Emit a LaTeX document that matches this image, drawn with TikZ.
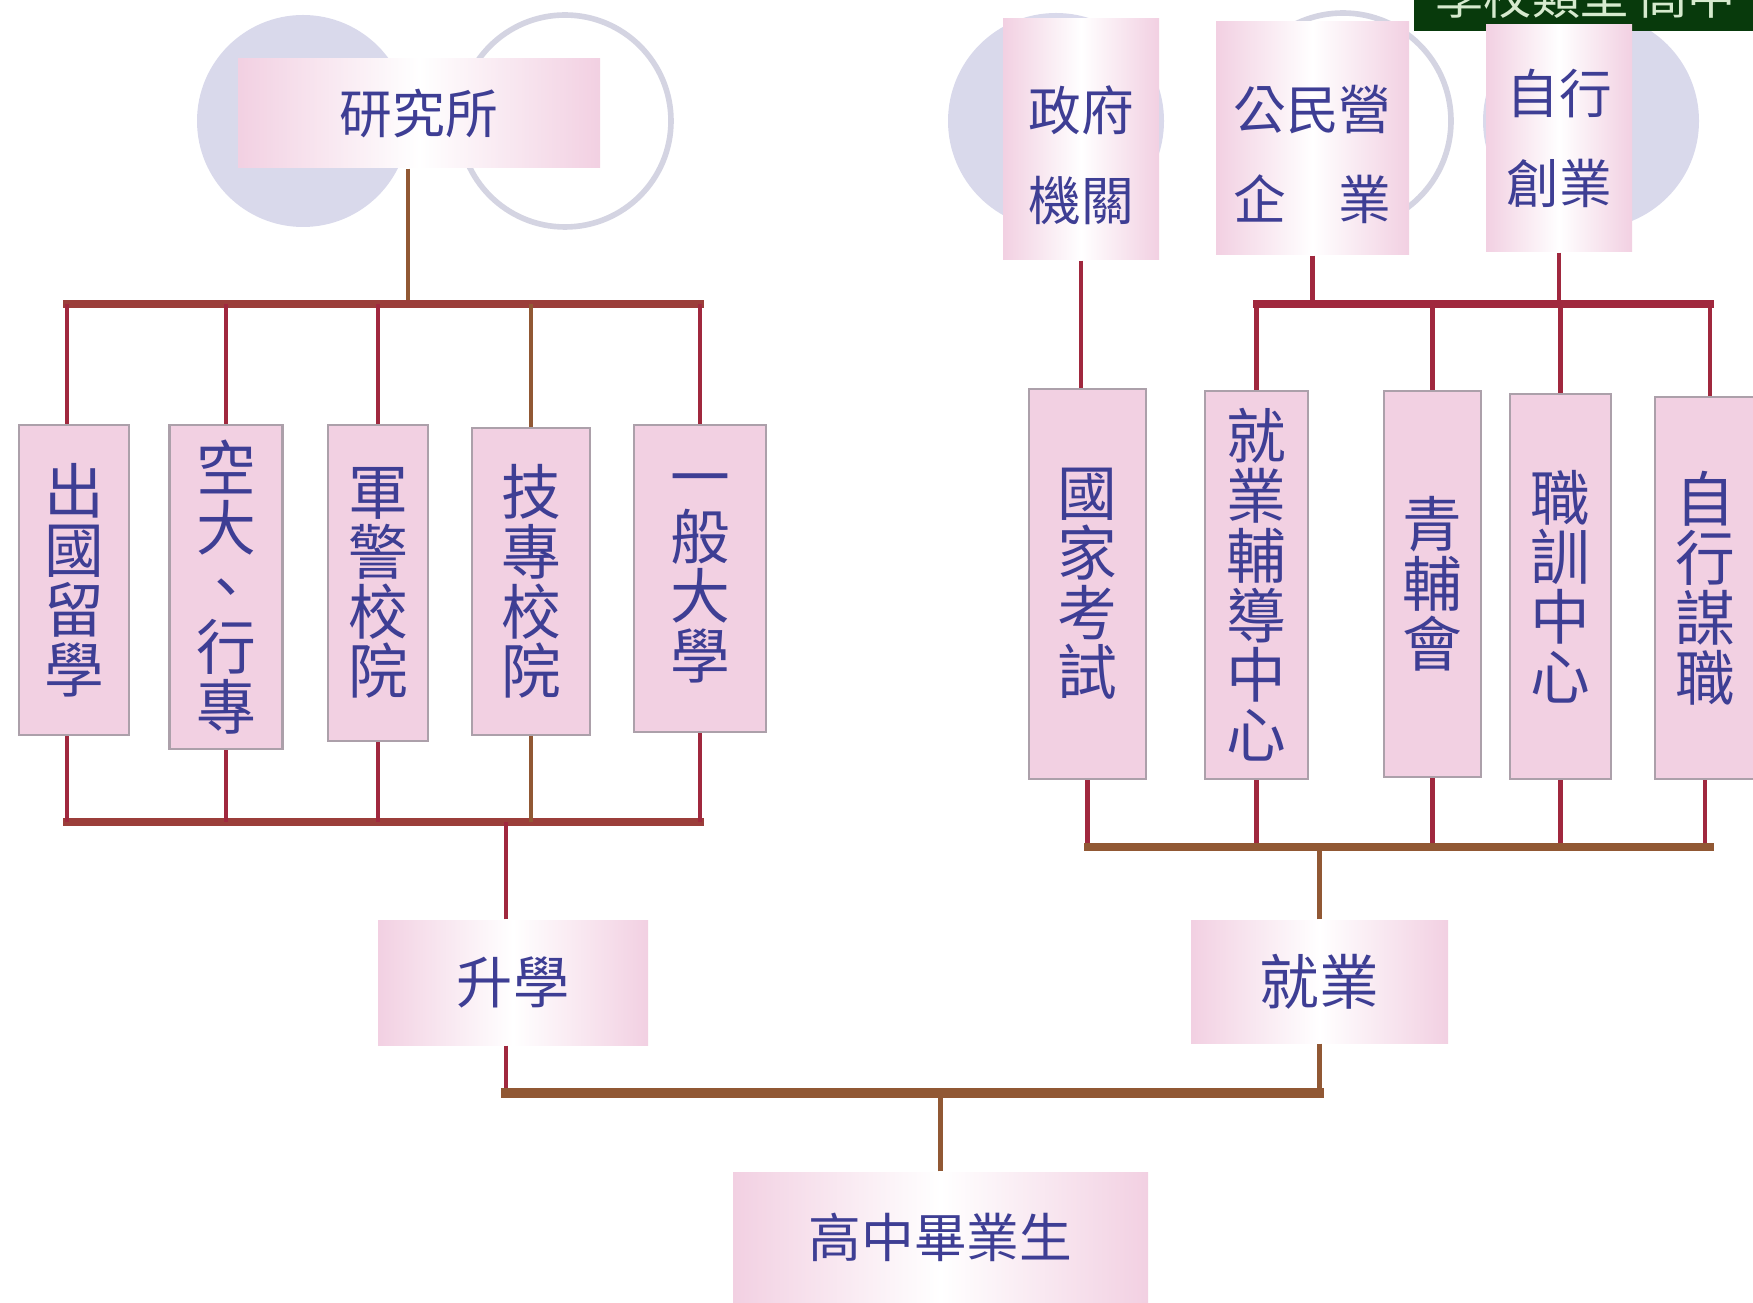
\documentclass[tikz,border=0pt]{standalone}
\usepackage{fontspec}
\newfontfamily\cjk{Noto Sans CJK TC}
\usetikzlibrary{positioning}
\definecolor{boxpink}{RGB}{242,208,226}
\definecolor{boxedge}{RGB}{172,160,170}
\definecolor{inkblue}{RGB}{62,62,148}
\definecolor{linkred}{RGB}{160,40,62}
\definecolor{linkbrown}{RGB}{145,88,52}
\definecolor{barbrown}{RGB}{155,62,58}
\definecolor{discfill}{RGB}{217,217,235}
\definecolor{ringgray}{RGB}{212,212,226}
\definecolor{tagdark}{RGB}{8,58,12}
\definecolor{taggreen}{RGB}{214,234,206}

\begin{document}
\begin{tikzpicture}[x=1cm,y=1cm,
		gradbox/.style={left color=boxpink,right color=boxpink,middle color=white,inner sep=0pt,text=inkblue,align=center},
		colbox/.style={fill=boxpink,draw=boxedge,line width=0.8pt,inner sep=0pt,text=inkblue,align=center,font=\cjk\fontsize{17}{17}\selectfont},
		redlink/.style={draw=linkred,line width=1.3pt},
		brownlink/.style={draw=linkbrown,line width=1.3pt},
		redbar/.style={draw=barbrown,line width=2pt,line cap=rect},
		brownbar/.style={draw=linkbrown,line width=2.2pt,line cap=rect}]
	\useasboundingbox (0,0) rectangle (17.53,-13.03);
	% circles behind the top boxes
	\fill[discfill] (3.03,-1.21) circle (1.06);
	\draw[ringgray,fill=white,line width=1.6pt] (5.65,-1.21) circle (1.06);
	\fill[discfill] (10.56,-1.21) circle (1.08);
	\draw[ringgray,fill=white,line width=1.6pt] (13.43,-1.21) circle (1.08);
	\fill[discfill] (15.91,-1.21) circle (1.08);
	% tag in the corner
	\fill[tagdark] (14.14,0) rectangle (17.53,-0.31);
	\node[anchor=base west,inner sep=0pt,text=taggreen,font=\cjk\fontsize{13.7}{14}\selectfont] (tag) at (14.35,-0.15) {學校類型 高中};
	% top boxes
	\node[gradbox,minimum width=3.62cm,minimum height=1.09cm,font=\cjk\fontsize{15}{15}\selectfont] (yjs) at (4.19,-1.135) {研究所};
	\node[gradbox,minimum width=1.56cm,minimum height=2.41cm,text height=1.66cm,font=\cjk\fontsize{15}{25.5}\selectfont] (gov) at (10.81,-1.395) {政府\\機關};
	\node[gradbox,minimum width=1.93cm,minimum height=2.33cm,text height=1.66cm,font=\cjk\fontsize{15}{25.5}\selectfont] (ent) at (13.125,-1.385) {公民營\\企　業};
	\node[gradbox,minimum width=1.46cm,minimum height=2.27cm,font=\cjk\fontsize{15}{25.5}\selectfont] (self) at (15.59,-1.385) {自行\\創業};
	% column boxes
	\foreach \name/\cx/\cy/\w/\h/\txt in {
		b1/0.74/-5.80/1.10/3.10/{出\\國\\留\\學},
		b2/2.26/-5.87/1.13/3.24/{空\\大\\、\\行\\專},
		b3/3.78/-5.83/1.00/3.16/{軍\\警\\校\\院},
		b4/5.31/-5.815/1.18/3.07/{技\\專\\校\\院},
		b5/7.00/-5.785/1.32/3.07/{一\\般\\大\\學},
		exam/10.875/-5.84/1.17/3.90/{國\\家\\考\\試},
		guide/12.565/-5.85/1.03/3.88/{就\\業\\輔\\導\\中\\心},
		youth/14.325/-5.84/0.97/3.86/{青\\輔\\會},
		train/15.605/-5.865/1.01/3.85/{職\\訓\\中\\心},
		job/17.05/-5.88/1.00/3.82/{自\\行\\謀\\職}}
	{
		\node[colbox,minimum width=\w cm,minimum height=\h cm] (\name) at (\cx,\cy) {\txt};
	}
	% lower boxes
	\node[gradbox,minimum width=2.70cm,minimum height=1.25cm,font=\cjk\fontsize{16}{16}\selectfont] (up) at (5.13,-9.825) {升學};
	\node[gradbox,minimum width=2.57cm,minimum height=1.23cm,font=\cjk\fontsize{17}{17}\selectfont] (work) at (13.195,-9.815) {就業};
	\node[gradbox,minimum width=4.15cm,minimum height=1.31cm,font=\cjk\fontsize{15}{15}\selectfont] (grad) at (9.405,-12.375) {高中畢業生};
	% bar heights
	\coordinate (ltop) at (0,-3.04);
	\coordinate (lbot) at (0,-8.22);
	\coordinate (rtop) at (0,-3.04);
	\coordinate (rbot) at (0,-8.47);
	\coordinate (mbar) at (0,-10.93);
	% left tree
	\draw[brownlink] ([xshift=-0.11cm]yjs.south) -- ([xshift=-0.11cm]yjs.south |- ltop);
	\draw[redbar] ([xshift=-0.07cm]b1.north |- ltop) -- (b5.north |- ltop);
	\draw[redbar] ([xshift=-0.07cm]b1.south |- lbot) -- (b5.south |- lbot);
	\draw[redlink] ([xshift=-0.07cm]b1.north) -- ([xshift=-0.07cm]b1.north |- ltop);
	\draw[redlink] ([xshift=-0.07cm]b1.south) -- ([xshift=-0.07cm]b1.south |- lbot);
	\foreach \b in {b2,b3,b5}
	{
		\draw[redlink] (\b.north) -- (\b.north |- ltop);
		\draw[redlink] (\b.south) -- (\b.south |- lbot);
	}
	\draw[brownlink] (b4.north) -- (b4.north |- ltop);
	\draw[brownlink] (b4.south) -- (b4.south |- lbot);
	\draw[redlink] ([xshift=-0.07cm]up.north) -- ([xshift=-0.07cm]up.north |- lbot);
	% right tree
	\draw[redlink] (gov.south) -- (gov.south |- exam.north);
	\draw[redlink] (ent.south) -- (ent.south |- rtop);
	\draw[redlink] (self.south) -- (self.south |- rtop);
	\draw[redbar,draw=linkred] (guide.north |- rtop) -- ([xshift=0.05cm]job.north |- rtop);
	\foreach \b in {guide,youth,train}
		\draw[redlink] (\b.north) -- (\b.north |- rtop);
	\draw[redlink] ([xshift=0.05cm]job.north) -- ([xshift=0.05cm]job.north |- rtop);
	\foreach \b in {exam,guide,youth,train,job}
		\draw[redlink] (\b.south) -- (\b.south |- rbot);
	\draw[brownbar] (exam.south |- rbot) -- ([xshift=0.05cm]job.south |- rbot);
	\draw[brownlink] (work.north) -- (work.north |- rbot);
	% bottom
	\draw[redlink] ([xshift=-0.07cm]up.south) -- ([xshift=-0.07cm]up.south |- mbar);
	\draw[brownlink] (work.south) -- (work.south |- mbar);
	\draw[brownbar,line width=2.6pt] ([xshift=-0.07cm]up.south |- mbar) -- (work.south |- mbar);
	\draw[brownlink] (grad.north) -- (grad.north |- mbar);
\end{tikzpicture}
\end{document}
